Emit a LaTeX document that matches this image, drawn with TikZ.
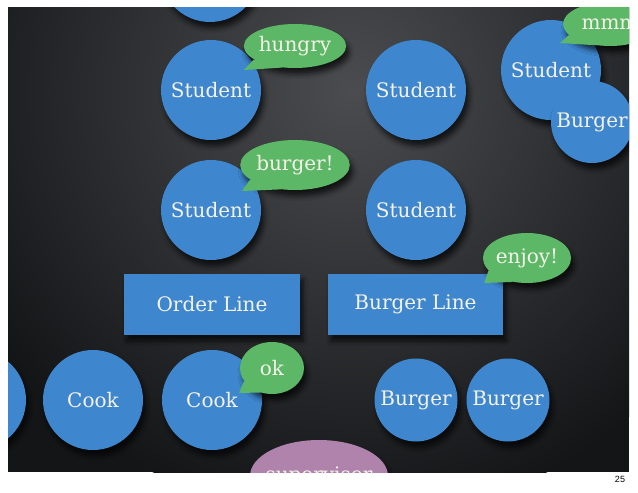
\documentclass[tikz,border=0pt]{standalone}
\usepackage{fontspec}
\setmainfont{DejaVu Serif}
\setsansfont{Liberation Sans}
\usepackage{xcolor}
\usetikzlibrary{shapes.geometric,shadows.blur}

\definecolor{slide}{HTML}{141517}
\definecolor{glow}{HTML}{4A4C4F}
\definecolor{blob}{HTML}{3E87CE}
\definecolor{talk}{HTML}{5CB866}
\definecolor{boss}{HTML}{B083AC}
\definecolor{chalk}{HTML}{F4F2E8}

\begin{document}
\begin{tikzpicture}[x=1pt, y=-1pt,
      lift/.style={blur shadow={shadow xshift=3pt, shadow yshift=-6pt, shadow blur radius=5pt, shadow opacity=70}},
      word/.style={text=chalk, font=\fontsize{20}{23}\selectfont},
      disc/.style={circle, fill=blob, lift, word, inner sep=0pt, minimum size=100pt},
      queue/.style={rectangle, fill=blob, lift, word, minimum width=176pt, minimum height=61pt},
      bubble/.style={ellipse, fill=talk, lift, word, inner sep=0pt}]
      \fill[white] (0,0) rectangle (638,493);
      \begin{scope}
        \clip (8,7) rectangle (629,472);
        \fill[slide] (8,7) rectangle (629,472);
        \shade[inner color=glow, outer color=slide] (350,90) circle (430);
        % students
        \node[disc] (s0) at (210,-28) {};
        \node[disc] (s1) at (211,90) {Student};
        \node[disc] (s2) at (211,210) {Student};
        \node[disc] (s3) at (416,90) {Student};
        \node[disc] (s4) at (416,210) {Student};
        \node[disc] (s5) at (551,70) {Student};
        \node[disc, minimum size=82pt] (b0) at (592,122) {Burger};
        % lines
        \node[queue] (order) at (212,304.5) {Order Line};
        \node[queue, minimum width=175pt] (burgers) at (415.5,304.5) {Burger Line};
        % kitchen
        \node[disc] (c0) at (-24,400) {};
        \node[disc] (c1) at (93,400) {Cook};
        \node[disc] (c2) at (212,400) {Cook};
        \node[disc, minimum size=83pt] (b1) at (416,400) {Burger};
        \node[disc, minimum size=83pt] (b2) at (508,400) {Burger};
        \node[ellipse, fill=boss, lift, inner sep=0pt, minimum width=138pt, minimum height=72pt,
          label={[word]center:supervisor}] (boss) at (319,476) {};
        % speech bubbles
        \node[bubble, minimum width=101pt, minimum height=44pt] (hungry) at (295,46) {hungry};
        \coordinate (hungrytip) at (244,70);
        \fill[talk] (hungry.198) -- (hungrytip) -- (hungry.240) -- cycle;
        \node[bubble, minimum width=104pt, minimum height=50pt] (want) at (295,165) {burger!};
        \coordinate (wanttip) at (242,191);
        \fill[talk] (want.198) -- (wanttip) -- (want.240) -- cycle;
        \node[bubble, minimum width=94pt, minimum height=44pt] (mmm) at (610,24) {mmm};
        \coordinate (mmmtip) at (560,43);
        \fill[talk] (mmm.195) -- (mmmtip) -- (mmm.238) -- cycle;
        \node[bubble, minimum width=84pt, minimum height=50pt] (enjoy) at (527,258) {enjoy!};
        \coordinate (enjoytip) at (484,283);
        \fill[talk] (enjoy.198) -- (enjoytip) -- (enjoy.240) -- cycle;
        \node[bubble, minimum width=64pt, minimum height=52pt] (ok) at (272,368) {ok};
        \coordinate (oktip) at (239,393);
        \fill[talk] (ok.205) -- (oktip) -- (ok.245) -- cycle;
      \end{scope}
      \node[font=\sffamily\fontsize{9}{10}\selectfont] (page) at (620,479) {25};
    \end{tikzpicture}
\end{document}
